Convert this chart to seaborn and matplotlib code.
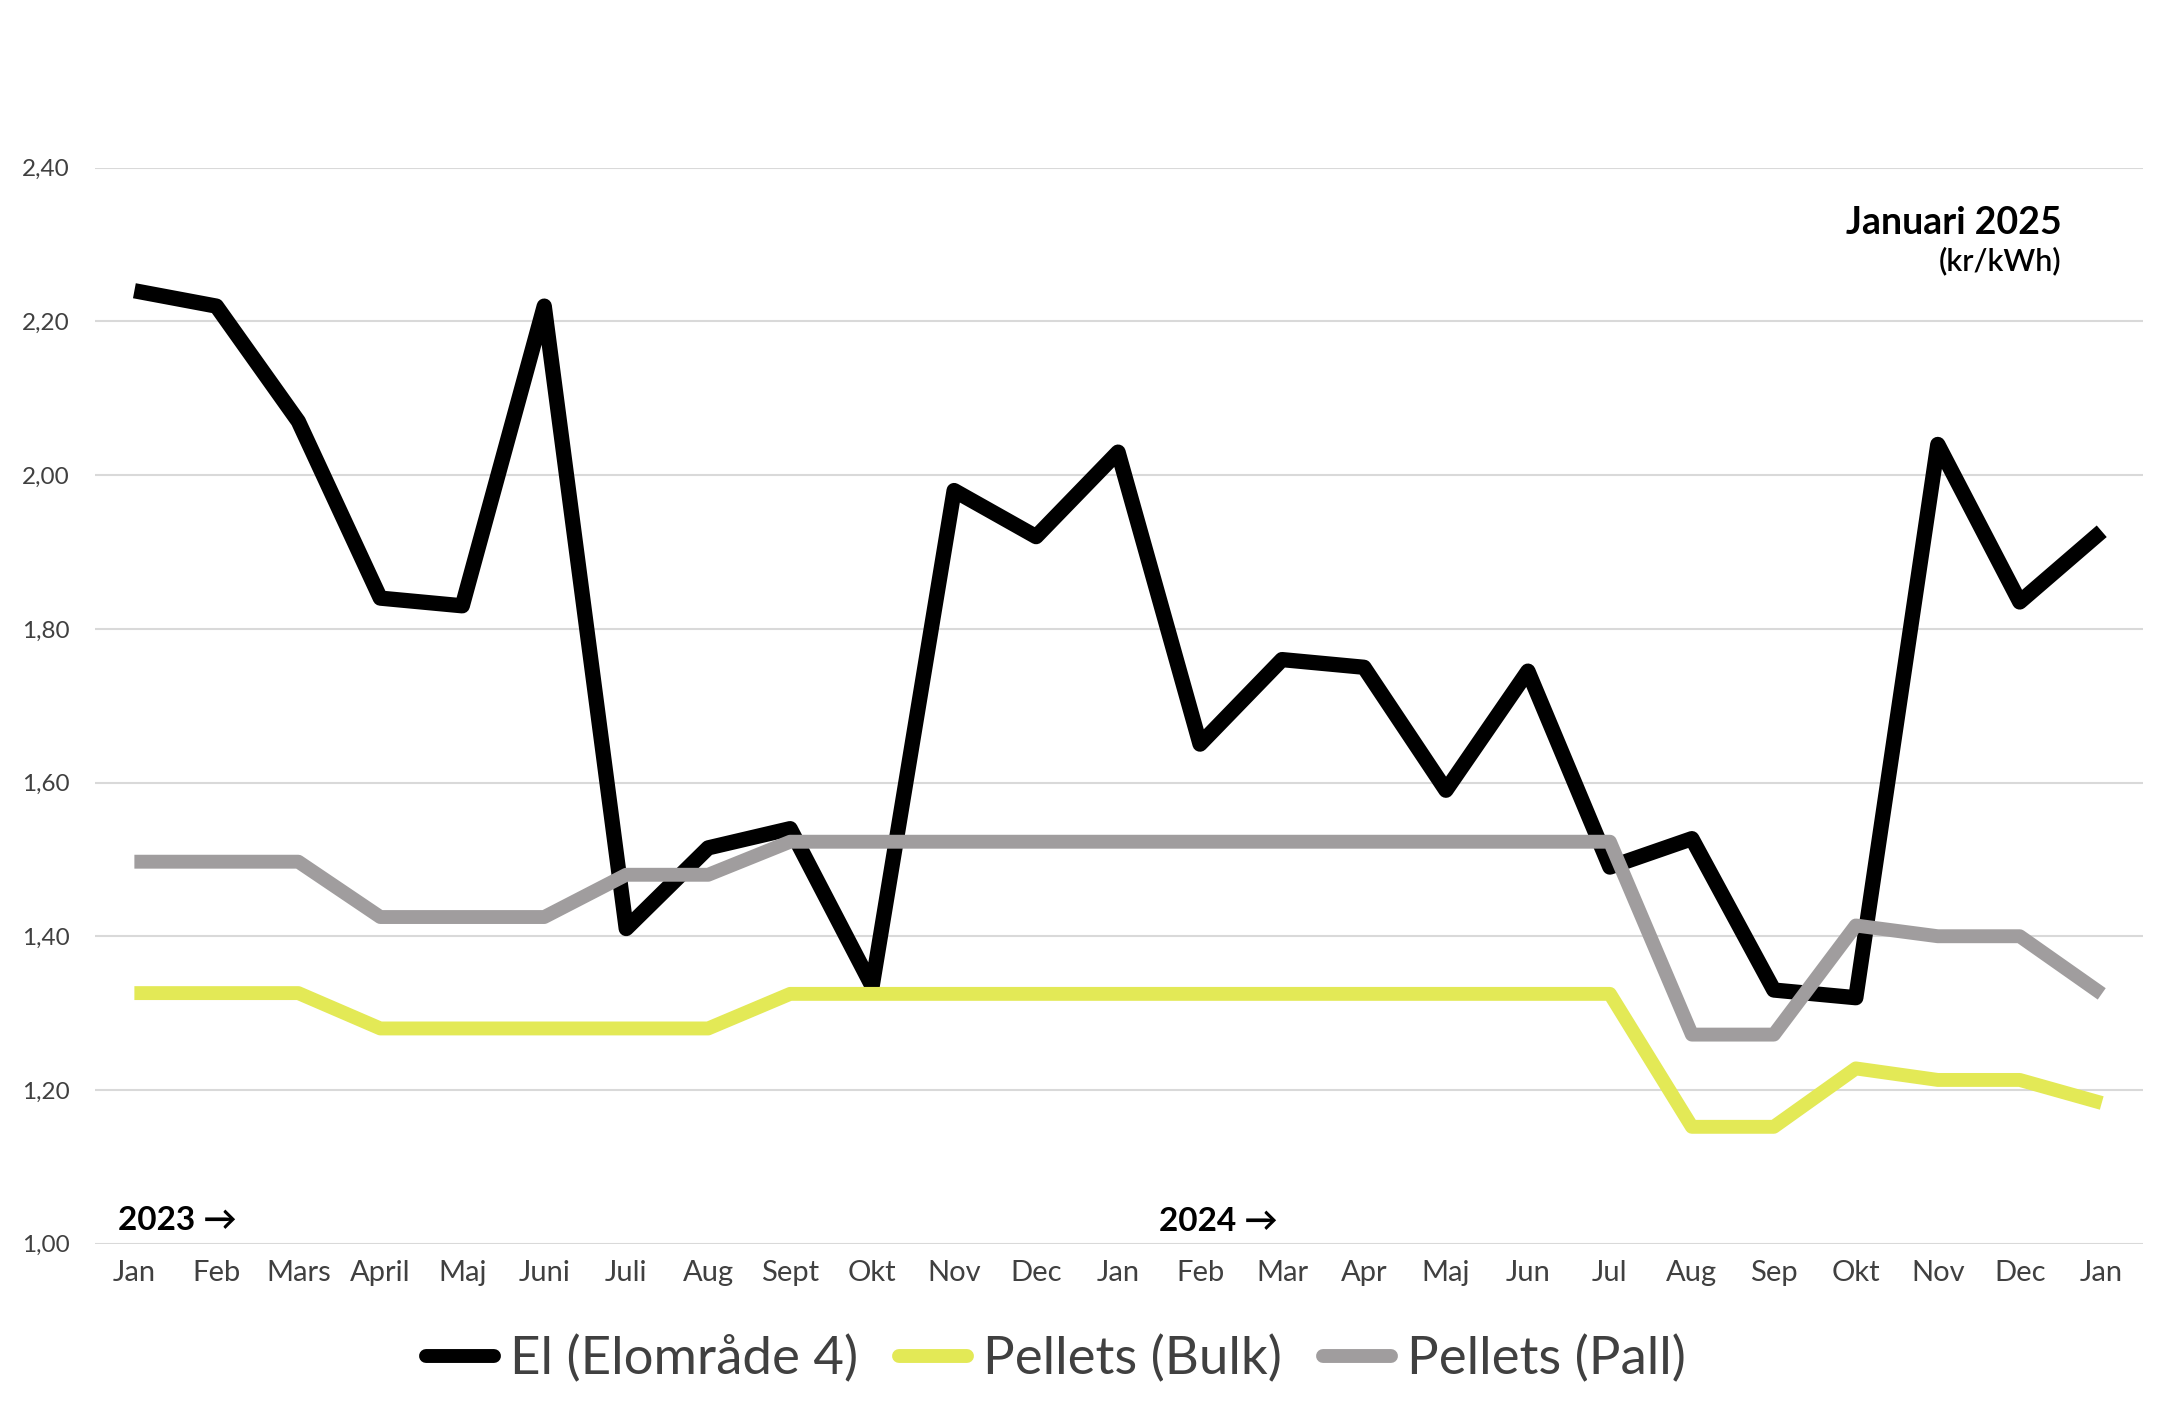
import pandas as pd
import matplotlib.pyplot as plt
import seaborn as sns
import numpy as np
from matplotlib.lines import Line2D

# Months, Jan 2023 -> Jan 2025
months = ["Jan", "Feb", "Mars", "April", "Maj", "Juni", "Juli", "Aug", "Sept", "Okt", "Nov", "Dec",
          "Jan", "Feb", "Mar", "Apr", "Maj", "Jun", "Jul", "Aug", "Sep", "Okt", "Nov", "Dec", "Jan"]

el = [2.24, 2.22, 2.07, 1.84, 1.83, 2.22, 1.41, 1.515, 1.54, 1.335, 1.98, 1.92,
      2.03, 1.65, 1.76, 1.75, 1.59, 1.745, 1.49, 1.527, 1.33, 1.32, 2.04, 1.835, 1.927]
bulk = [1.326, 1.326, 1.326, 1.28, 1.28, 1.28, 1.28, 1.28, 1.325, 1.325, 1.325, 1.325,
        1.325, 1.325, 1.325, 1.325, 1.325, 1.325, 1.325, 1.152, 1.152, 1.228, 1.213, 1.213, 1.183]
pall = [1.497, 1.497, 1.497, 1.425, 1.425, 1.425, 1.48, 1.48, 1.523, 1.523, 1.523, 1.523,
        1.523, 1.523, 1.523, 1.523, 1.523, 1.523, 1.523, 1.272, 1.272, 1.414, 1.40, 1.40, 1.325]

series_names = ["El (Elområde 4)", "Pellets (Bulk)", "Pellets (Pall)"]
colors = ["#000000", "#E3E956", "#A09D9E"]
widths = [11, 10, 10]

df = pd.DataFrame({"pos": np.arange(len(months)), series_names[0]: el,
                   series_names[1]: bulk, series_names[2]: pall})

sns.set_theme(style="white")
plt.rcParams["font.family"] = ["Lato", "DejaVu Sans"]

fig = plt.figure(figsize=(21.6, 14.1), dpi=100)
ax = fig.add_axes([0.044, 0.118, 0.948, 0.763])

# black first, yellow and grey drawn on top
for name, c, lw in zip(series_names, colors, widths):
    sns.lineplot(data=df, x="pos", y=name, ax=ax, color=c, linewidth=lw,
                 solid_joinstyle="round", solid_capstyle="butt")

ax.set_xlim(-0.48, 24.5)
ax.set_ylim(1.0, 2.4)
ax.set_yticks(np.arange(1.0, 2.41, 0.2))
ax.set_yticklabels([f"{v:.2f}".replace(".", ",") for v in np.arange(1.0, 2.41, 0.2)])
ax.set_xticks(range(len(months)))
ax.set_xticklabels(months)
ax.set_xlabel("")
ax.set_ylabel("")
ax.grid(axis="y", color="#D9D9D9", linewidth=1.5)
ax.set_axisbelow(True)
for s in ax.spines.values():
    s.set_visible(False)
ax.tick_params(axis="y", labelsize=17.5, labelcolor="#404040", pad=18, length=0)
ax.tick_params(axis="x", labelsize=21, labelcolor="#404040", pad=12, length=0)

ax.text(-0.2, 1.018, "2023 →", fontsize=24, fontweight="bold", color="black", ha="left", va="baseline")
ax.text(12.5, 1.016, "2024 →", fontsize=24, fontweight="bold", color="black", ha="left", va="baseline")

fig.text(0.9545, 0.842, "Januari 2025", fontsize=27, fontweight="bold", color="black", ha="right", va="center")
fig.text(0.9545, 0.815, "(kr/kWh)", fontsize=22, fontweight="semibold", color="black", ha="right", va="center")

handles = [Line2D([0], [0], color=c, linewidth=10, solid_capstyle="round") for c in colors]
leg = fig.legend(handles, series_names, loc="center", bbox_to_anchor=(0.489, 0.036), ncol=3,
                 frameon=False, fontsize=38, handlelength=1.28, handletextpad=0.31, columnspacing=0.78)
for t in leg.get_texts():
    t.set_color("#404040")

fig.savefig("out.png", dpi=100)
